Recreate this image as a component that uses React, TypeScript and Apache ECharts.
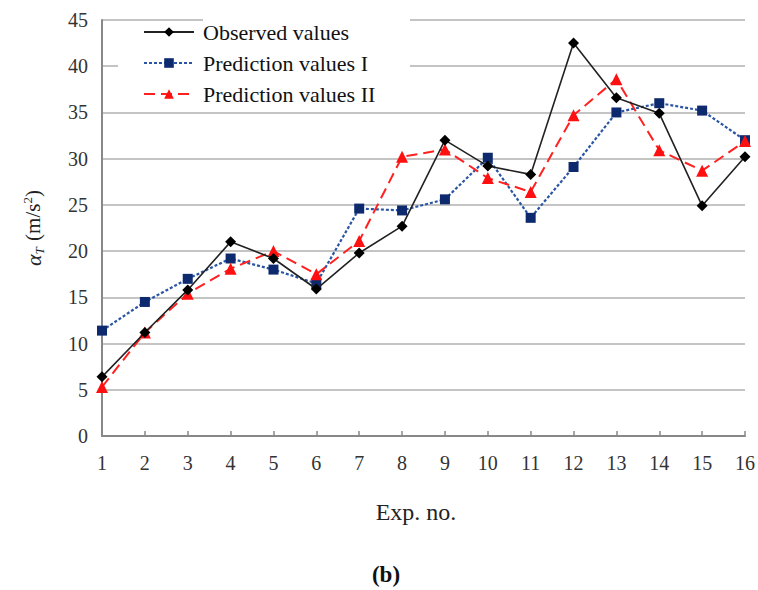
import React, { useEffect, useRef } from "react";
import * as echarts from "echarts";

const categories = ["1", "2", "3", "4", "5", "6", "7", "8", "9", "10", "11", "12", "13", "14", "15", "16"];
const observed = [6.4, 11.2, 15.8, 21.0, 19.2, 15.9, 19.8, 22.7, 32.0, 29.2, 28.3, 42.5, 36.6, 34.9, 24.9, 30.2];
const predictionI = [11.4, 14.5, 17.0, 19.2, 18.0, 16.5, 24.6, 24.4, 25.6, 30.1, 23.6, 29.1, 35.0, 36.0, 35.2, 32.0];
const predictionII = [5.3, 11.2, 15.4, 18.1, 20.0, 17.5, 21.1, 30.2, 31.0, 27.9, 26.4, 34.7, 38.6, 30.9, 28.7, 31.9];
const seriesNames = ["Observed values", "Prediction values I", "Prediction values II"];

const FONT = "Liberation Serif";

export default function App() {
  const ref = useRef<HTMLDivElement>(null);
  useEffect(() => {
    if (!ref.current) return;
    const chart = echarts.init(ref.current, null, { renderer: "svg" });
    chart.setOption({
      animation: false,
      backgroundColor: "#fff",
      grid: { left: 102, right: 11, top: 20, bottom: 154, containLabel: false },
      legend: {
        left: 143,
        top: 21,
        orient: "vertical",
        itemWidth: 50,
        itemHeight: 12,
        itemGap: 9,
        padding: 0,
        textStyle: { fontFamily: FONT, fontSize: 22, lineHeight: 22, color: "#111", padding: [0, 0, 0, 4] },
        data: seriesNames,
      },
      graphic: [
        {
          type: "polygon",
          z: 1,
          shape: { points: [[203, 12], [410, 12], [410, 104], [118, 104], [118, 28], [203, 28]] },
          style: { fill: "#fff" },
        },
        {
          type: "text",
          x: 386,
          y: 574,
          style: {
            text: "(b)",
            fontFamily: FONT,
            fontSize: 23,
            fontWeight: "bold",
            fill: "#111",
            align: "center",
            verticalAlign: "middle",
          },
        },
      ],
      xAxis: {
        type: "category",
        data: categories,
        boundaryGap: false,
        name: "Exp. no.",
        nameLocation: "middle",
        nameGap: 64,
        nameTextStyle: { fontFamily: FONT, fontSize: 24, color: "#222", padding: [0, 15, 0, 0] },
        axisLine: { lineStyle: { color: "#888", width: 2 } },
        axisTick: { show: true, inside: true, length: 5, alignWithLabel: true, lineStyle: { color: "#888", width: 1.5 } },
        axisLabel: { fontFamily: FONT, fontSize: 20, color: "#333", margin: 17 },
        splitLine: { show: false },
      },
      yAxis: {
        type: "value",
        min: 0,
        max: 45,
        interval: 5,
        name: "{a|α}{s|T}{n| (m/s}{p|2}{n|)}",
        nameLocation: "middle",
        nameGap: 56,
        nameRotate: 90,
        nameTextStyle: {
          fontFamily: FONT,
          color: "#222",
          rich: {
            a: { fontFamily: FONT, fontSize: 22, fontStyle: "italic", color: "#222", lineHeight: 26 },
            s: { fontFamily: FONT, fontSize: 13, fontStyle: "italic", color: "#222", padding: [12, 1, 0, 0], lineHeight: 26 },
            n: { fontFamily: FONT, fontSize: 21, color: "#222", lineHeight: 26 },
            p: { fontFamily: FONT, fontSize: 13, color: "#222", padding: [0, 0, 12, 0], lineHeight: 26 },
          },
        },
        axisLine: { show: true, lineStyle: { color: "#888", width: 2 } },
        axisTick: { show: false },
        axisLabel: { fontFamily: FONT, fontSize: 20, color: "#333", margin: 14 },
        splitLine: { show: true, lineStyle: { color: "#c4c4c4", width: 2 } },
      },
      series: [
        {
          name: seriesNames[0],
          type: "line",
          data: observed,
          symbol: "diamond",
          symbolSize: 11,
          z: 5,
          itemStyle: { color: "#000" },
          lineStyle: { color: "#222", width: 1.6, type: "solid" },
        },
        {
          name: seriesNames[1],
          type: "line",
          data: predictionI,
          symbol: "rect",
          symbolSize: 10,
          z: 3,
          itemStyle: { color: "#0e2a6e" },
          lineStyle: { color: "#2a55a5", width: 2.2, type: [3, 2] },
        },
        {
          name: seriesNames[2],
          type: "line",
          data: predictionII,
          symbol: "triangle",
          symbolSize: 12,
          z: 4,
          itemStyle: { color: "#ff1010" },
          lineStyle: { color: "#ff2020", width: 2, type: [11, 6] },
        },
      ],
    });
    return () => chart.dispose();
  }, []);
  return <div ref={ref} style={{ position: "absolute", left: 0, top: 0, width: 758, height: 590 }} />;
}
